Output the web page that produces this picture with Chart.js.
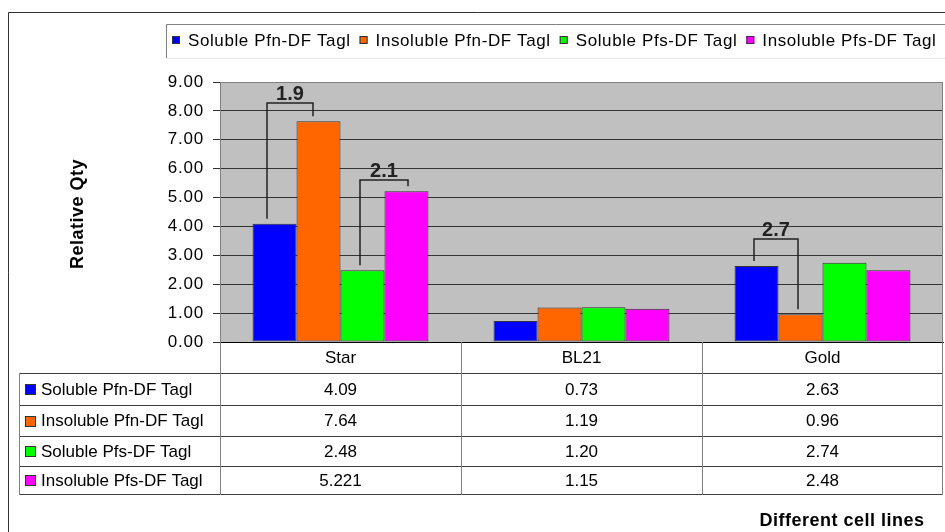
<!DOCTYPE html>
<html>
<head>
<meta charset="utf-8">
<script src="https://cdn.jsdelivr.net/npm/chart.js@4/dist/chart.umd.min.js"></script>
<style>
  html, body { margin: 0; padding: 0; background: #fff; overflow: hidden; }
  canvas { display: block; }
</style>
</head>
<body>
<canvas id="chart" width="945" height="532"></canvas>
<script>
// Relative quantity of each construct per E. coli cell line
const cellLines = ['Star', 'BL21', 'Gold'];
const solublePfn = [4.09, 0.73, 2.63];
const insolublePfn = [7.64, 1.19, 0.96];
const solublePfs = [2.48, 1.20, 2.74];
const insolublePfs = [5.221, 1.15, 2.48];
const seriesNames = ['Soluble Pfn-DF Tagl', 'Insoluble Pfn-DF Tagl', 'Soluble Pfs-DF Tagl', 'Insoluble Pfs-DF Tagl'];
const seriesColors = ['#0000ff', '#ff6600', '#00ff00', '#ff00ff'];
const yTicks = [0, 1, 2, 3, 4, 5, 6, 7, 8, 9];
// fold-change brackets: [cell line index, first series, second series]
const foldPairs = [[0, 0, 1], [0, 2, 3], [2, 0, 1]];

const series = [solublePfn, insolublePfn, solublePfs, insolublePfs];
const FONT = '"Liberation Sans", Arial, Helvetica, sans-serif';

// numbers shown with at least two decimals, more if entered that way
function fmt(n) {
  const d = (String(n).split('.')[1] || '').length;
  return n.toFixed(Math.max(2, d));
}

// bracket geometry: top of each bracket (axis units) and foot shifts from bar centres (px)
const bracketTops = [8.27, 5.6, 3.56];
const footShift = [[-8, -6], [-2, 2], [-3, -3]];

const decor = {
  id: 'decor',
  beforeDraw(chart) {
    const { ctx, chartArea: a } = chart;
    ctx.save();
    ctx.fillStyle = '#ffffff';
    ctx.fillRect(0, 0, chart.width, chart.height);
    ctx.fillStyle = '#c0c0c0';
    ctx.fillRect(a.left, a.top, a.right - a.left, a.bottom - a.top);
    ctx.restore();
    ctx.letterSpacing = '0.8px';
  },
  afterDraw(chart) {
    const { ctx, chartArea: a } = chart;
    const yScale = chart.scales.y;
    ctx.save();
    ctx.letterSpacing = '0px';

    // right edge of the plot area
    ctx.strokeStyle = '#808080';
    ctx.lineWidth = 1;
    ctx.beginPath();
    ctx.moveTo(Math.round(a.right) - 0.5, a.top);
    ctx.lineTo(Math.round(a.right) - 0.5, a.bottom);
    ctx.stroke();

    // fold-change brackets
    ctx.strokeStyle = '#222';
    ctx.lineWidth = 1.5;
    ctx.fillStyle = '#222';
    ctx.font = 'bold 20px ' + FONT;
    ctx.textAlign = 'center';
    ctx.textBaseline = 'alphabetic';
    foldPairs.forEach(([cat, s1, s2], i) => {
      const b1 = chart.getDatasetMeta(s1).data[cat];
      const b2 = chart.getDatasetMeta(s2).data[cat];
      const yTop = Math.round(yScale.getPixelForValue(bracketTops[i]));
      const x1 = Math.round(b1.x + footShift[i][0]);
      const x2 = Math.round(b2.x + footShift[i][1]);
      ctx.beginPath();
      ctx.moveTo(x1, b1.y - 5);
      ctx.lineTo(x1, yTop);
      ctx.lineTo(x2, yTop);
      ctx.lineTo(x2, b2.y - 5);
      ctx.stroke();
      const v1 = series[s1][cat], v2 = series[s2][cat];
      const ratio = Math.max(v1, v2) / Math.min(v1, v2);
      ctx.fillText(ratio.toFixed(1), (x1 + x2) / 2, yTop - 3);
    });

    // data table under the plot
    const catW = (a.right - a.left) / cellLines.length;
    const tLeft = 19.5;
    const rowLines = [a.bottom, 373, 405, 436, 466, 494];
    const right = Math.round(a.right) - 0.5;
    ctx.lineWidth = 1;
    ctx.strokeStyle = '#404040';
    for (let r = 1; r < rowLines.length; r++) {
      ctx.beginPath();
      ctx.moveTo(tLeft, rowLines[r] + 0.5);
      ctx.lineTo(right, rowLines[r] + 0.5);
      ctx.stroke();
    }
    ctx.strokeStyle = '#808080';
    ctx.beginPath();
    ctx.moveTo(tLeft, rowLines[1]);
    ctx.lineTo(tLeft, rowLines[5] + 1);
    for (let c = 0; c <= cellLines.length; c++) {
      const x = Math.round(a.left + c * catW) + (c === cellLines.length ? -0.5 : 0.5);
      ctx.moveTo(x, a.bottom);
      ctx.lineTo(x, rowLines[5] + 1);
    }
    ctx.stroke();

    ctx.font = '17px ' + FONT;
    ctx.fillStyle = '#000';
    ctx.textBaseline = 'middle';
    ctx.textAlign = 'center';
    cellLines.forEach((name, c) => {
      ctx.fillText(name, a.left + (c + 0.5) * catW, (rowLines[0] + rowLines[1]) / 2 + 1);
    });
    series.forEach((vals, r) => {
      const yc = (rowLines[r + 1] + rowLines[r + 2]) / 2 + 1;
      ctx.textAlign = 'center';
      ctx.fillStyle = '#000';
      vals.forEach((v, c) => {
        ctx.fillText(fmt(v), a.left + (c + 0.5) * catW, yc);
      });
      ctx.fillStyle = seriesColors[r];
      ctx.fillRect(25, Math.round(yc) - 6, 11, 11);
      ctx.strokeStyle = '#333';
      ctx.strokeRect(25.5, Math.round(yc) - 5.5, 10, 10);
      ctx.fillStyle = '#000';
      ctx.textAlign = 'left';
      ctx.fillText(seriesNames[r], 41, yc);
    });

    // legend box across the top
    ctx.strokeStyle = '#808080';
    ctx.beginPath();
    ctx.moveTo(166.5, 58);
    ctx.lineTo(166.5, 24.5);
    ctx.lineTo(chart.width, 24.5);
    ctx.stroke();
    ctx.strokeStyle = '#e6e6e6';
    ctx.beginPath();
    ctx.moveTo(167, 58.5);
    ctx.lineTo(chart.width, 58.5);
    ctx.stroke();
    ctx.font = '17px ' + FONT;
    ctx.letterSpacing = '0.6px';
    ctx.textAlign = 'left';
    ctx.textBaseline = 'middle';
    let lx = 172;
    seriesNames.forEach((name, i) => {
      ctx.fillStyle = seriesColors[i];
      ctx.fillRect(lx, 36, 8, 8);
      ctx.strokeStyle = '#333';
      ctx.strokeRect(lx + 0.5, 36.5, 7, 7);
      ctx.fillStyle = '#000';
      ctx.fillText(name, lx + 16, 41);
      lx += 16 + ctx.measureText(name).width + 9;
    });

    // axis titles
    ctx.letterSpacing = '0.5px';
    ctx.font = 'bold 18px ' + FONT;
    ctx.textAlign = 'center';
    ctx.fillText('Different cell lines', 842, 521);
    ctx.save();
    ctx.translate(78, 214);
    ctx.rotate(-Math.PI / 2);
    ctx.fillText('Relative Qty', 0, 0);
    ctx.restore();

    // chart frame
    ctx.strokeStyle = '#333';
    ctx.beginPath();
    ctx.moveTo(8.5, chart.height + 2);
    ctx.lineTo(8.5, 12.5);
    ctx.lineTo(chart.width + 2, 12.5);
    ctx.stroke();
    ctx.restore();
  }
};

new Chart(document.getElementById('chart'), {
  type: 'bar',
  data: {
    labels: cellLines,
    datasets: series.map((vals, i) => ({
      label: seriesNames[i],
      data: vals,
      backgroundColor: seriesColors[i],
      borderColor: '#333',
      borderWidth: 1,
      borderSkipped: false,
      categoryPercentage: 0.73,
      barPercentage: 1.0
    }))
  },
  options: {
    responsive: false,
    animation: false,
    devicePixelRatio: 1,
    layout: { padding: { top: 82, right: 2, bottom: 190, left: 0 } },
    plugins: { legend: { display: false }, tooltip: { enabled: false } },
    scales: {
      x: {
        ticks: { display: false },
        grid: { display: false, drawTicks: false },
        border: { display: true, color: '#000', width: 1 },
        afterFit(s) { s.height = 0; }
      },
      y: {
        min: 0,
        max: 9,
        afterBuildTicks(s) { s.ticks = yTicks.map(v => ({ value: v })); },
        ticks: {
          padding: 9,
          color: '#000',
          font: { family: FONT, size: 17 },
          callback: v => Number(v).toFixed(2)
        },
        grid: {
          color: ctx => (ctx.tick && ctx.tick.value === 9 ? '#808080' : '#333'),
          tickColor: '#333',
          tickLength: 7,
          lineWidth: 1
        },
        border: { display: true, color: '#808080', width: 1 },
        afterFit(s) { s.width = 220; }
      }
    }
  },
  plugins: [decor]
});
</script>
</body>
</html>
